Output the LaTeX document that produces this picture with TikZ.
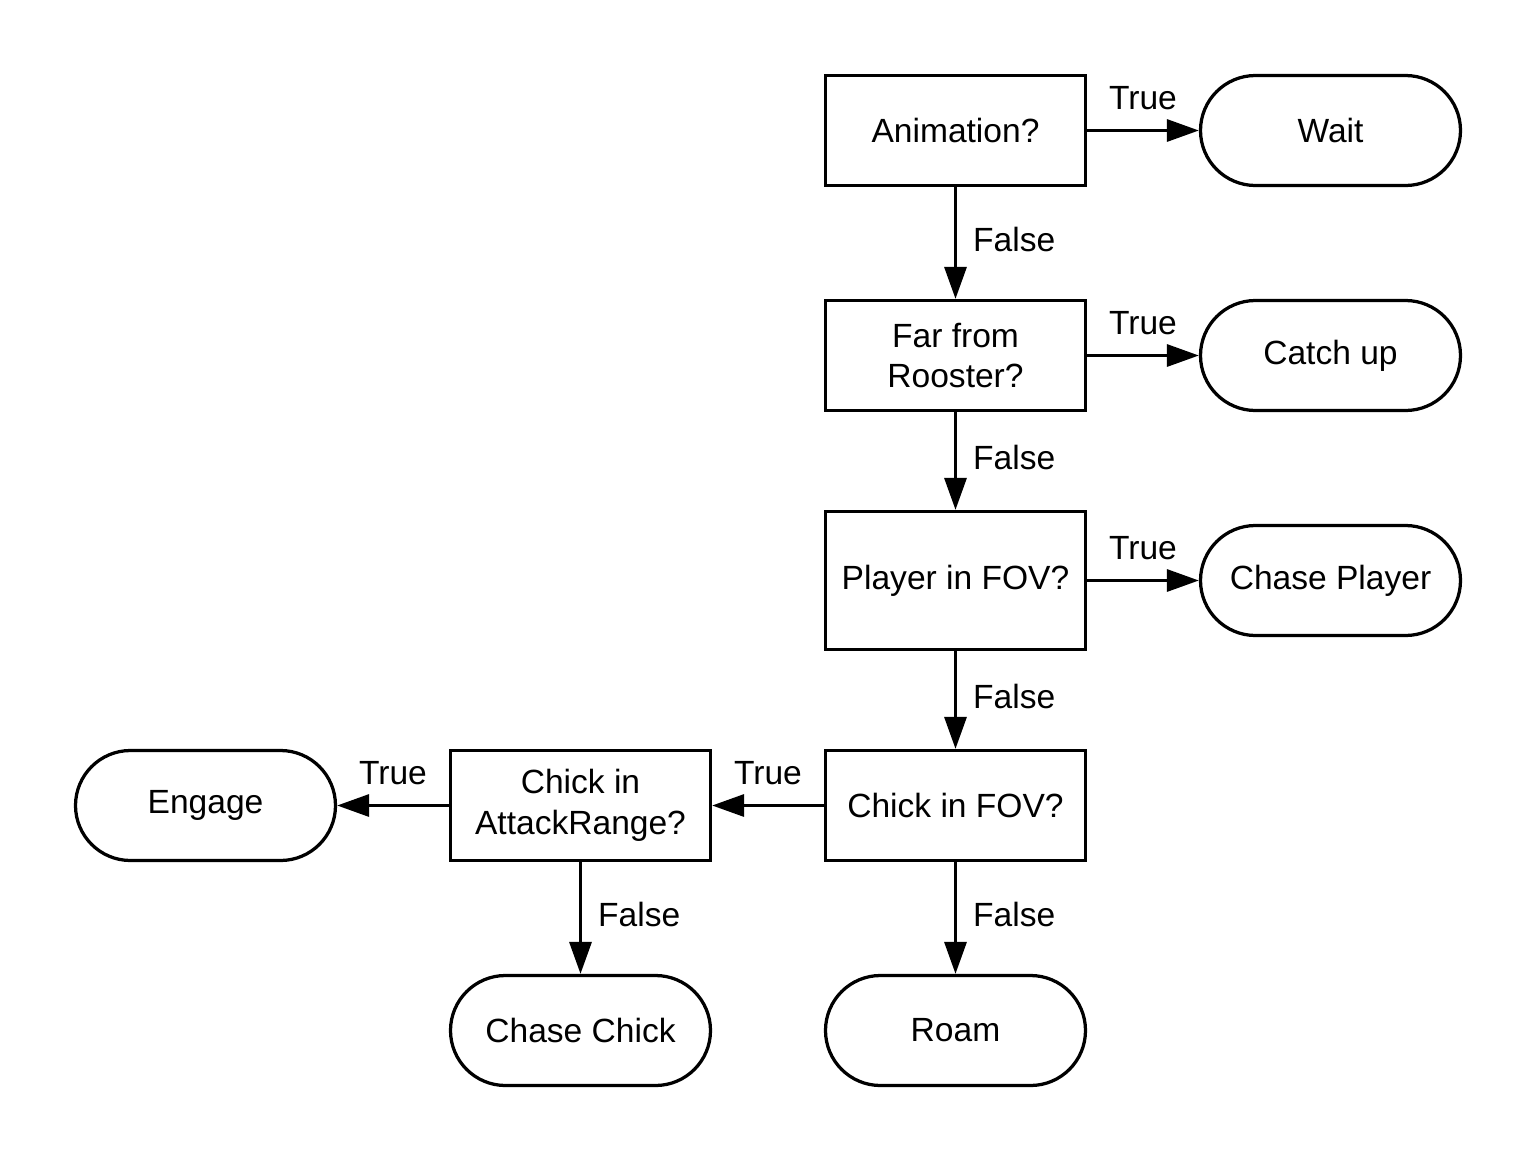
\documentclass[tikz,border=0pt]{standalone}
\usepackage{fontspec}
\setmainfont{Liberation Sans}
\usetikzlibrary{positioning,arrows.meta}

\begin{document}
\begin{tikzpicture}[>={Triangle[length=0.64cm,width=0.44cm]}, line width=0.065cm,
  font=\fontsize{19.1}{23.3}\selectfont,
  test/.style={draw,rectangle,minimum width=5.2cm,minimum height=2.2cm,align=center},
  leaf/.style={draw,rectangle,rounded corners=1.1cm,minimum width=5.2cm,minimum height=2.2cm},
  yes/.style={midway,above=0.38cm,inner sep=0pt},
  no/.style={midway,right=0.32cm,yshift=0.08cm,inner sep=0pt}]
  \useasboundingbox (0,0) rectangle (30.76,-23.26);
  % checks
  \node[test](anim)   at (19.11,-2.61) {Animation?};
  \node[test](far)    at (19.11,-7.11) {Far from\\Rooster?};
  \node[test,minimum height=2.76cm](player) at (19.11,-11.61) {Player in FOV?};
  \node[test](chick)  at (19.11,-16.11) {Chick in FOV?};
  \node[test](attack) at (11.61,-16.11) {Chick in\\AttackRange?};
  % actions
  \node[leaf](wait)   at (26.61,-2.61)  {Wait};
  \node[leaf](catch)  at (26.61,-7.11)  {Catch up};
  \node[leaf](chasep) at (26.61,-11.61) {Chase Player};
  \node[leaf](engage) at (4.11,-16.11)  {Engage};
  \node[leaf](chasec) at (11.61,-20.61) {Chase Chick};
  \node[leaf](roam)   at (19.11,-20.61) {Roam};
  \draw[->](anim)--(wait) node[yes]{True};   \draw[->](anim)--(far) node[no]{False};
  \draw[->](far)--(catch) node[yes]{True};   \draw[->](far)--(player) node[no]{False};
  \draw[->](player)--(chasep) node[yes]{True}; \draw[->](player)--(chick) node[no]{False};
  \draw[->](chick)--(attack) node[yes]{True}; \draw[->](chick)--(roam) node[no]{False};
  \draw[->](attack)--(engage) node[yes]{True}; \draw[->](attack)--(chasec) node[no]{False};
\end{tikzpicture}
\end{document}
